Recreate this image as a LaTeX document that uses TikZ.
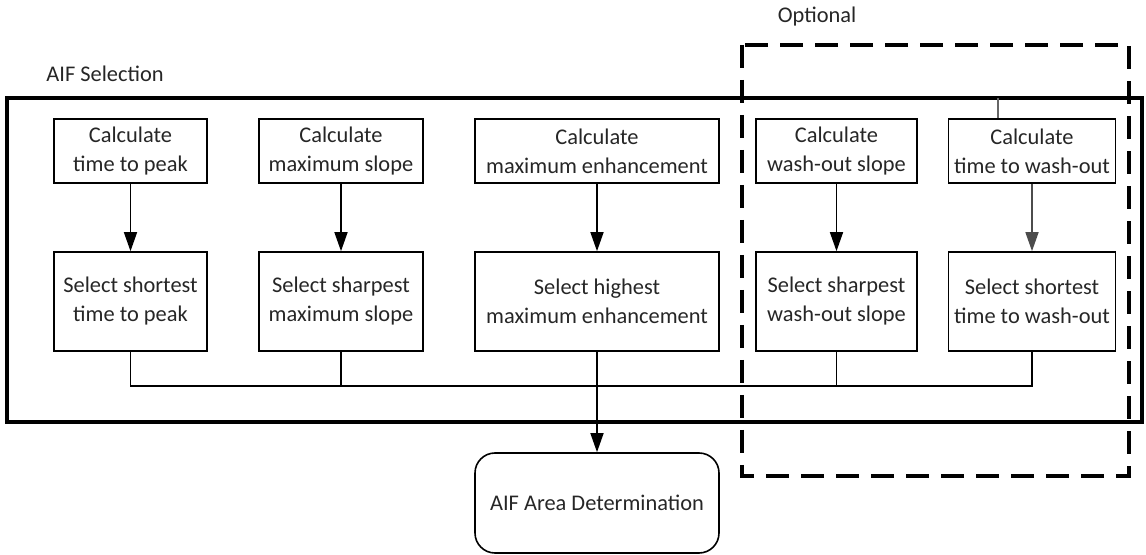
\documentclass[tikz,border=0pt]{standalone}
\usepackage{fontspec}
\setmainfont{Carlito}
\usetikzlibrary{arrows.meta}
\newcommand\boxfont{\fontsize{11.2}{14.5}\selectfont}
\newcommand\adraw[2]{
        \draw[-{Triangle[width=6.5pt,length=9.5pt]}] (#1) -- (#2);
}

\begin{document}
\begin{tikzpicture}[x=0.5pt,y=-0.5pt,
    every node/.style={font=\boxfont,text=black!85},
    calcbox/.style={draw,line width=0.8pt,align=center,minimum height=32pt,inner sep=0pt},
    selbox/.style={draw,line width=0.8pt,align=center,minimum height=49.5pt,inner sep=0pt},
    line width=0.75pt]

    \useasboundingbox (0,0) rectangle (1146,555);

    %draws the frames:
    \draw[line width=1.6pt] (7,98) rectangle (1142,422);
    \draw[line width=1.6pt,dash pattern=on 11.5pt off 6pt] (742,45) rectangle (1129,476);
    \node (aifsel) at (105,74) {AIF Selection};
    \node (optional) at (817,17) {Optional};

    %draws upper row:
    \node[calcbox,minimum width=76.5pt] (calcpeak)  at (130.5,151) {Calculate\\time to peak};
    \node[calcbox,minimum width=82pt]   (calcslope) at (341,151)   {Calculate\\maximum slope};
    \node[calcbox,minimum width=122pt]  (calcenh)   at (597,151)   {Calculate\\maximum enhancement};
    \node[calcbox,minimum width=80.5pt] (calcwash)  at (836.5,151) {Calculate\\wash-out slope};
    \node[calcbox,minimum width=83.5pt] (calcttw)   at (1032,151)  {Calculate\\time to wash-out};

    %draws lower row:
    \node[selbox,minimum width=76.5pt] (selpeak)  at (130.5,301.5) {Select shortest\\time to peak};
    \node[selbox,minimum width=82pt]   (selslope) at (341,301.5)   {Select sharpest\\maximum slope};
    \node[selbox,minimum width=122pt]  (selenh)   at (597,301.5)   {Select highest\\maximum enhancement};
    \node[selbox,minimum width=80.5pt] (selwash)  at (836.5,301.5) {Select sharpest\\wash-out slope};
    \node[selbox,minimum width=83.5pt] (selttw)   at (1032,301.5)  {Select shortest\\time to wash-out};

    \node[draw,line width=0.8pt,rounded corners=10pt,minimum width=122pt,minimum height=50pt] (area) at (597,503) {AIF Area Determination};

    \adraw{calcpeak}{selpeak};
    \adraw{calcslope}{selslope};
    \adraw{calcenh}{selenh};
    \adraw{calcwash}{selwash};
    \draw[black!70,-{Triangle[width=6.5pt,length=9.5pt]}] (calcttw) -- (selttw);

    %draws the collecting line:
    \coordinate (busleft) at (130.5,386);
    \coordinate (busright) at (1032,386);
    \coordinate (topmark) at (998,98);
    \draw (selpeak.south) -- (busleft) -- (busright) -- (selttw.south);
    \draw (selslope.south) -- (selslope.south |- busleft);
    \draw (selwash.south) -- (selwash.south |- busleft);
    \adraw{selenh.south}{area.north};
    \draw[black!60] (topmark) -- (calcttw.north -| topmark);

\end{tikzpicture}
\end{document}
